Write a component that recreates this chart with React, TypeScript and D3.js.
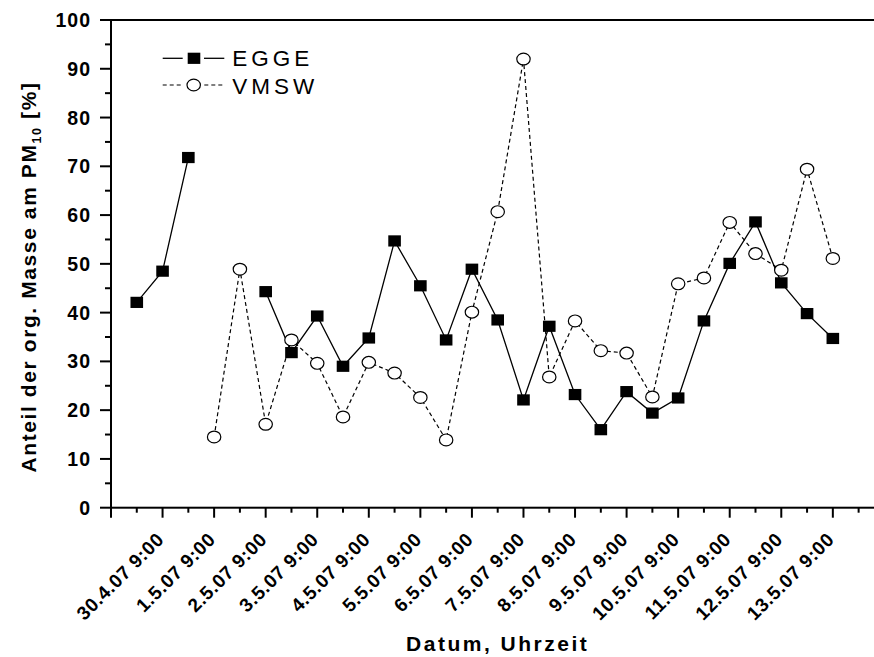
import React from "react";
import * as d3 from "d3";

// Sampling: every 12 h, first sample 29.4.07 21:00, last 13.5.07 9:00
const dateLabels = [
  "30.4.07 9:00", "1.5.07 9:00", "2.5.07 9:00", "3.5.07 9:00", "4.5.07 9:00",
  "5.5.07 9:00", "6.5.07 9:00", "7.5.07 9:00", "8.5.07 9:00", "9.5.07 9:00",
  "10.5.07 9:00", "11.5.07 9:00", "12.5.07 9:00", "13.5.07 9:00",
];

const egge: (number | null)[] = [
  42.1, 48.5, 71.8, null, null, 44.3, 31.8, 39.3, 29.0, 34.8,
  54.7, 45.5, 34.4, 48.9, 38.5, 22.1, 37.2, 23.2, 16.0, 23.8,
  19.4, 22.5, 38.3, 50.1, 58.6, 46.1, 39.8, 34.7,
];

const vmsw: (number | null)[] = [
  null, null, null, 14.5, 48.9, 17.1, 34.4, 29.6, 18.6, 29.8,
  27.6, 22.6, 13.9, 40.1, 60.7, 92.0, 26.8, 38.3, 32.2, 31.7,
  22.7, 45.9, 47.1, 58.5, 52.1, 48.7, 69.4, 51.1,
];

const yTicks = [0, 10, 20, 30, 40, 50, 60, 70, 80, 90, 100];

const W = 874;
const H = 657;
const left = 111;
const right = 884.4;
const top = 20;
const bottom = 507.7;

const FONT = "'Liberation Sans', Arial, sans-serif";

export default function App() {
  // half-day steps: 0 = 29.4.07 9:00, 30 = 14.5.07 9:00
  const x = d3.scaleLinear().domain([0, 30]).range([left, right]);
  const y = d3.scaleLinear().domain([0, 100]).range([bottom, top]);

  const pts = (arr: (number | null)[]) =>
    arr.map((v, i) => ({ t: i + 1, v }));

  const line = d3
    .line<{ t: number; v: number | null }>()
    .defined((d) => d.v !== null)
    .x((d) => x(d.t))
    .y((d) => y(d.v as number));

  const eggePts = pts(egge);
  const vmswPts = pts(vmsw);

  const xTickVals = d3.range(0, 31);
  const yMinor = d3.range(5, 100, 10);

  return (
    <svg
      width={W}
      height={H}
      style={{ position: "absolute", left: 0, top: 0, background: "#fff", overflow: "hidden" }}
      fontFamily={FONT}
    >
      <rect x={0} y={0} width={W} height={H} fill="#fff" />

      {/* frame */}
      <rect x={left} y={top} width={right - left} height={bottom - top} fill="none" stroke="#000" strokeWidth={2} />

      {/* y ticks */}
      {yTicks.map((v) => (
        <g key={"yt" + v}>
          <line x1={left - 11} x2={left} y1={y(v)} y2={y(v)} stroke="#000" strokeWidth={2} />
          <text
            x={91}
            y={y(v)}
            dy="0.36em"
            textAnchor="end"
            fontSize={19.5}
            fontWeight="bold"
            letterSpacing={1}
          >
            {v}
          </text>
        </g>
      ))}
      {yMinor.map((v) => (
        <line key={"ym" + v} x1={left - 6} x2={left} y1={y(v)} y2={y(v)} stroke="#000" strokeWidth={2} />
      ))}

      {/* x ticks */}
      {xTickVals.map((t) => (
        <line
          key={"xt" + t}
          x1={x(t)}
          x2={x(t)}
          y1={bottom}
          y2={bottom + (t % 2 === 0 ? 10 : 5)}
          stroke="#000"
          strokeWidth={2}
        />
      ))}
      {dateLabels.map((lab, k) => {
        const tx = x(2 + 2 * k) + 2.5;
        const ty = bottom + 33;
        return (
          <text
            key={"xl" + k}
            transform={`translate(${tx},${ty}) rotate(-45)`}
            textAnchor="end"
            fontSize={19}
            fontWeight="bold"
            letterSpacing={0.6}
          >
            {lab}
          </text>
        );
      })}

      {/* axis titles */}
      <text
        x={(left + right) / 2}
        y={651}
        textAnchor="middle"
        fontSize={21}
        fontWeight="bold"
        letterSpacing={2.5}
      >
        Datum, Uhrzeit
      </text>
      <text
        transform={`translate(36,277) rotate(-90)`}
        textAnchor="middle"
        fontSize={21}
        fontWeight="bold"
        letterSpacing={1.6}
      >
        Anteil der org. Masse am PM
        <tspan fontSize={12.5} dy={5}>10</tspan>
        <tspan dy={-5}> [%]</tspan>
      </text>

      {/* series lines */}
      <path d={line(eggePts) ?? ""} fill="none" stroke="#000" strokeWidth={1.3} />
      <path d={line(vmswPts) ?? ""} fill="none" stroke="#000" strokeWidth={1.2} strokeDasharray="4,3" />

      {/* markers */}
      {vmswPts
        .filter((d) => d.v !== null)
        .map((d) => (
          <ellipse
            key={"vm" + d.t}
            cx={x(d.t)}
            cy={y(d.v as number)}
            rx={6.7}
            ry={5.9}
            fill="#fff"
            stroke="#000"
            strokeWidth={1.2}
          />
        ))}
      {eggePts
        .filter((d) => d.v !== null)
        .map((d) => (
          <rect
            key={"eg" + d.t}
            x={x(d.t) - 6.3}
            y={y(d.v as number) - 5.6}
            width={12.6}
            height={11.2}
            fill="#000"
          />
        ))}

      {/* legend */}
      <g>
        <line x1={162.7} x2={182.7} y1={58.3} y2={58.3} stroke="#000" strokeWidth={1.3} />
        <line x1={204} x2={224.3} y1={58.3} y2={58.3} stroke="#000" strokeWidth={1.3} />
        <rect x={194 - 6.3} y={58.3 - 5.6} width={12.6} height={11.2} fill="#000" />
        <text x={232.3} y={65.8} fontSize={22.5} letterSpacing={4}>EGGE</text>

        <line x1={162.7} x2={183.3} y1={85} y2={85} stroke="#000" strokeWidth={1.2} strokeDasharray="4,3" />
        <line x1={204.3} x2={224.3} y1={85} y2={85} stroke="#000" strokeWidth={1.2} strokeDasharray="4,3" />
        <ellipse cx={193.7} cy={85} rx={6.7} ry={5.9} fill="#fff" stroke="#000" strokeWidth={1.2} />
        <text x={232.3} y={93.5} fontSize={22.5} letterSpacing={4}>VMSW</text>
      </g>
    </svg>
  );
}
